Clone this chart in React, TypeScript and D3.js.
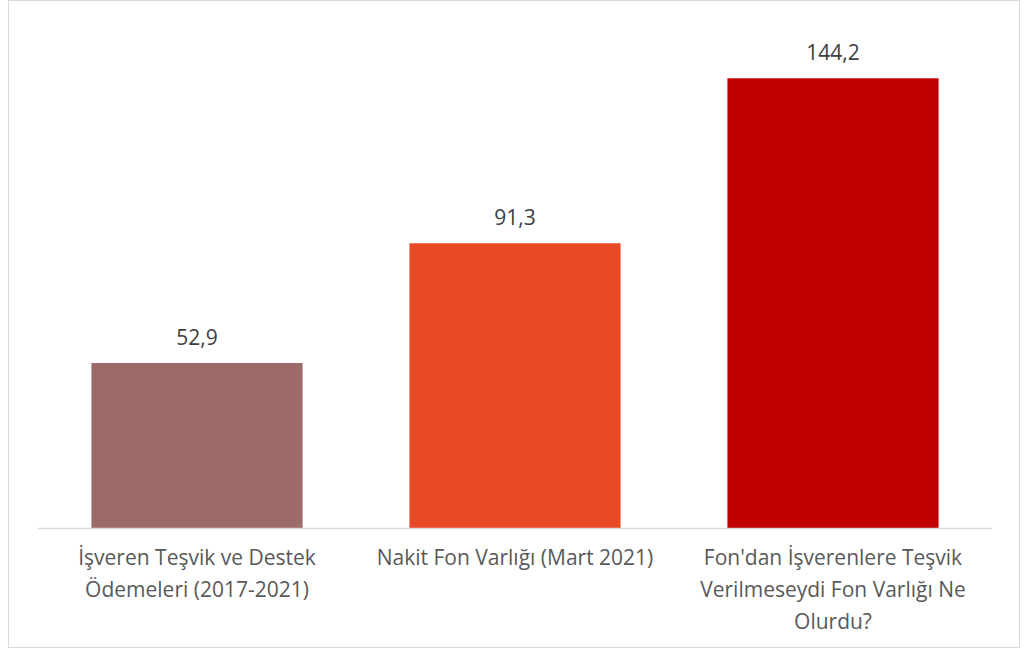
import React, { useEffect, useRef } from 'react';
import * as d3 from 'd3';

// category labels, already broken into lines like the original
const categories = [
    ['İşveren Teşvik ve Destek', 'Ödemeleri (2017-2021)'],
    ['Nakit Fon Varlığı (Mart 2021)'],
    ["Fon'dan İşverenlere Teşvik", 'Verilmeseydi Fon Varlığı Ne', 'Olurdu?'],
];
const values = [52.9, 91.3, 144.2];
const colors = ['#9c6a69', '#e84a25', '#c00000'];

const width = 1024;
const height = 650;
const margin = { top: 29, right: 32, bottom: 122, left: 38 };
const font = '"Open Sans", sans-serif';

const App = () => {
    const svgRef = useRef<SVGSVGElement>(null);

    useEffect(() => {
        const svg = d3.select(svgRef.current);
        svg.selectAll('*').remove();

        const fmt = d3.formatLocale({ decimal: ',', thousands: '.', grouping: [3], currency: ['', ''] }).format('.1f');

        const x = d3
            .scaleBand<number>()
            .domain(values.map((_, i) => i))
            .range([margin.left, width - margin.right])
            .paddingInner(0.336)
            .paddingOuter(0.168);

        const y = d3
            .scaleLinear()
            .domain([0, 160])
            .range([height - margin.bottom, margin.top]);

        // chart border
        svg.append('rect')
            .attr('x', 8.5)
            .attr('y', 0.5)
            .attr('width', 1011)
            .attr('height', 647)
            .attr('fill', '#fff')
            .attr('stroke', '#d9d9d9');

        svg.append('g')
            .selectAll('rect')
            .data(values)
            .join('rect')
            .attr('x', (_, i) => x(i)!)
            .attr('y', d => y(d))
            .attr('width', x.bandwidth())
            .attr('height', d => y(0) - y(d))
            .attr('fill', (_, i) => colors[i]);

        // baseline
        svg.append('line')
            .attr('x1', margin.left)
            .attr('x2', width - margin.right)
            .attr('y1', y(0) + 0.5)
            .attr('y2', y(0) + 0.5)
            .attr('stroke', '#d9d9d9')
            .attr('stroke-width', 1.5);

        svg.append('g')
            .selectAll('text')
            .data(values)
            .join('text')
            .attr('x', (_, i) => x(i)! + x.bandwidth() / 2)
            .attr('y', d => y(d) - 18)
            .attr('text-anchor', 'middle')
            .attr('font-family', font)
            .attr('font-size', 21)
            .attr('fill', '#404040')
            .text(d => fmt(d));

        const labels = svg.append('g')
            .selectAll('text')
            .data(categories)
            .join('text')
            .attr('x', (_, i) => x(i)! + x.bandwidth() / 2)
            .attr('y', y(0) + 37)
            .attr('text-anchor', 'middle')
            .attr('font-family', font)
            .attr('font-size', 21)
            .attr('fill', '#595959');

        labels.selectAll('tspan')
            .data(d => d)
            .join('tspan')
            .attr('x', function () {
                return (this.parentNode as SVGTextElement).getAttribute('x');
            })
            .attr('dy', (_, j) => (j === 0 ? 0 : 32))
            .text(d => d);
    }, []);

    return (
        <svg
            ref={svgRef}
            width={width}
            height={height}
            style={{ position: 'absolute', left: 0, top: 0 }}
        ></svg>
    );
};

export default App;
